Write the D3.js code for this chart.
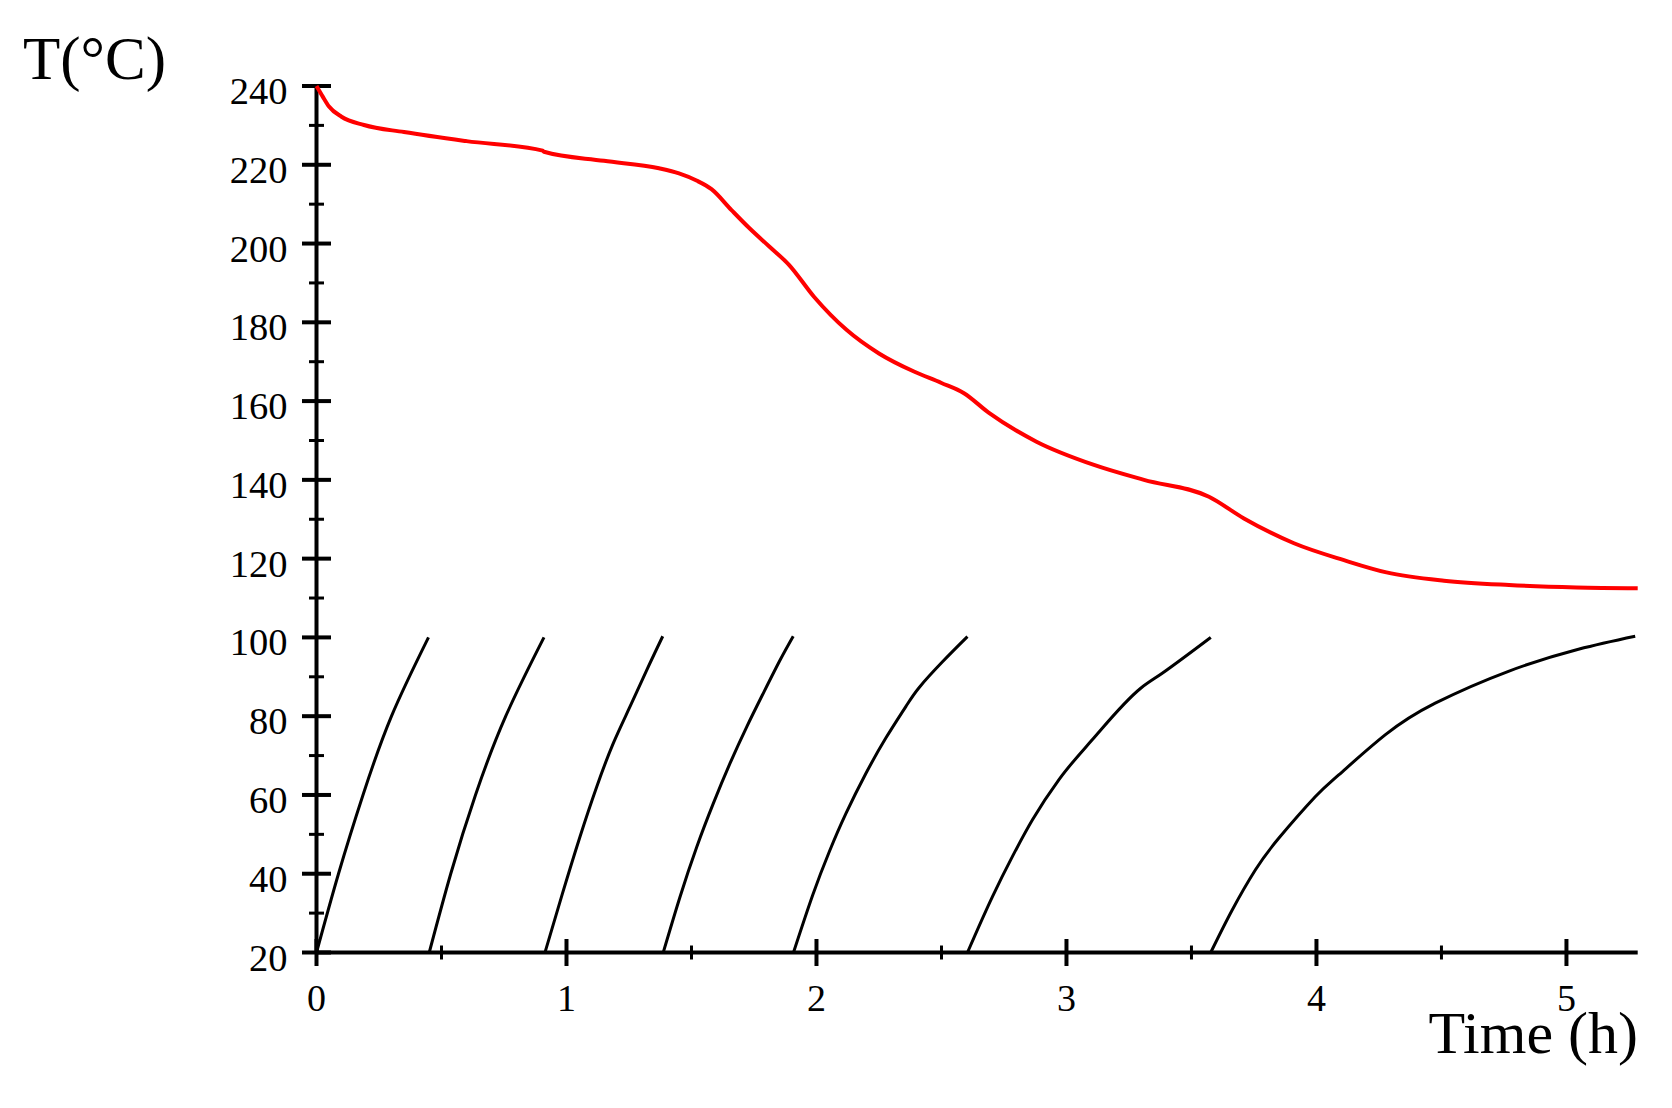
<!DOCTYPE html>
<html>
<head>
<meta charset="utf-8">
<script src="https://cdn.jsdelivr.net/npm/d3@7"></script>
<style>
  html, body { margin: 0; padding: 0; background: #fff; }
  svg { display: block; }
</style>
</head>
<body>
<svg id="chart" width="1672" height="1108"></svg>
<script>
// ---------- data ----------
const yTickValues = [20, 40, 60, 80, 100, 120, 140, 160, 180, 200, 220, 240];
const yMinorTicks = [30, 50, 70, 90, 110, 130, 150, 170, 190, 210, 230];
const xTickValues = [0, 1, 2, 3, 4, 5];
const xMinorTicks = [0.5, 1.5, 2.5, 3.5, 4.5];

// red curve (wall / oil temperature)
const redTime = [0, 0.025, 0.05, 0.1, 0.19, 0.35, 0.6, 0.905, 0.91, 1.15, 1.37, 1.45, 1.52, 1.58, 1.66, 1.73, 1.81, 1.89, 1.99, 2.12, 2.25, 2.39, 2.5, 2.59, 2.69, 2.88, 3.11, 3.31, 3.57, 3.71, 3.91, 4.11, 4.28, 4.51, 4.77, 5.04, 5.285];
const redTemp = [240, 237.3, 234.8, 232.2, 230.1, 228.3, 226.0, 223.6, 223.3, 221.0, 219.1, 217.8, 216.0, 213.8, 208.5, 204.0, 199.3, 194.6, 186.5, 178.1, 172.1, 167.5, 164.6, 162.0, 157.0, 149.7, 143.8, 140.0, 135.7, 130.2, 123.9, 119.6, 116.5, 114.4, 113.3, 112.7, 112.5];

// black curves (batch heating)
const batch1Time = [0, 0.088, 0.186, 0.300, 0.448];
const batch1Temp = [20, 40, 60, 80, 100];
const batch2Time = [0.451, 0.537, 0.636, 0.757, 0.910];
const batch2Temp = [20, 40, 60, 80, 100];
const batch3Time = [0.914, 0.984, 1.054, 1.121, 1.187, 1.254, 1.321, 1.385];
const batch3Temp = [20, 35.0, 49.4, 62.1, 73.1, 82.4, 91.7, 100.3];
const batch4Time = [1.387, 1.454, 1.521, 1.587, 1.654, 1.721, 1.787, 1.854, 1.907];
const batch4Temp = [20, 34.1, 46.8, 57.8, 68.0, 77.3, 85.8, 94.2, 100.3];
const batch5Time = [1.908, 1.985, 2.052, 2.118, 2.198, 2.278, 2.358, 2.411, 2.504, 2.604];
const batch5Temp = [20, 34.6, 45.7, 55.3, 65.5, 74.5, 82.5, 87.3, 93.8, 100.2];
const batch6Time = [2.604, 2.704, 2.784, 2.864, 2.970, 3.103, 3.297, 3.383, 3.577];
const batch6Temp = [20, 34.2, 44.4, 53.7, 63.9, 74.0, 87.1, 90.9, 100.0];
const batch7Time = [3.577, 3.663, 3.756, 3.849, 3.996, 4.089, 4.276, 4.475, 4.768, 5.048, 5.275];
const batch7Temp = [20, 30.8, 41.0, 49.0, 59.6, 65.1, 75.3, 83.3, 91.4, 97.0, 100.3];

const batchTimes = [batch1Time, batch2Time, batch3Time, batch4Time, batch5Time, batch6Time, batch7Time];
const batchTemps = [batch1Temp, batch2Temp, batch3Temp, batch4Temp, batch5Temp, batch6Temp, batch7Temp];

// ---------- drawing ----------
const svg = d3.select("#chart");
const x = d3.scaleLinear().domain([0, 5.285]).range([316.5, 1637.7]);
const y = d3.scaleLinear().domain([20, 240]).range([952.5, 86]);

const font = "'Liberation Serif', 'Times New Roman', serif";

const redLine = d3.line()
  .x(d => x(d[0]))
  .y(d => y(d[1]))
  .curve(d3.curveMonotoneX);
const smoothLine = d3.line()
  .x(d => x(d[0]))
  .y(d => y(d[1]))
  .curve(d3.curveNatural);
const kinkLine = d3.line()
  .x(d => x(d[0]))
  .y(d => y(d[1]))
  .curve(d3.curveMonotoneX);

// axis lines
svg.append("line")
  .attr("x1", x(0)).attr("x2", x(0))
  .attr("y1", y(240)).attr("y2", y(20))
  .attr("stroke", "#000").attr("stroke-width", 4);
svg.append("line")
  .attr("x1", x(0)).attr("x2", x(5.285))
  .attr("y1", y(20)).attr("y2", y(20))
  .attr("stroke", "#000").attr("stroke-width", 4);

// y ticks
svg.append("g").selectAll("line").data(yTickValues).join("line")
  .attr("x1", x(0) - 14.5).attr("x2", x(0) + 14.5)
  .attr("y1", d => y(d)).attr("y2", d => y(d))
  .attr("stroke", "#000").attr("stroke-width", 4);
svg.append("g").selectAll("line").data(yMinorTicks).join("line")
  .attr("x1", x(0) - 7.5).attr("x2", x(0) + 7.5)
  .attr("y1", d => y(d)).attr("y2", d => y(d))
  .attr("stroke", "#000").attr("stroke-width", 3);

// x ticks
svg.append("g").selectAll("line").data(xTickValues).join("line")
  .attr("x1", d => x(d)).attr("x2", d => x(d))
  .attr("y1", y(20) - 13.5).attr("y2", y(20) + 13.5)
  .attr("stroke", "#000").attr("stroke-width", 4);
svg.append("g").selectAll("line").data(xMinorTicks).join("line")
  .attr("x1", d => x(d)).attr("x2", d => x(d))
  .attr("y1", y(20) - 7).attr("y2", y(20) + 7)
  .attr("stroke", "#000").attr("stroke-width", 3);

// y tick labels
svg.append("g").selectAll("text").data(yTickValues).join("text")
  .attr("x", 287.5).attr("y", d => y(d) + 18)
  .attr("text-anchor", "end")
  .attr("font-family", font).attr("font-size", 38.5)
  .attr("fill", "#000")
  .text(d => d);

// x tick labels
svg.append("g").selectAll("text").data(xTickValues).join("text")
  .attr("x", d => x(d)).attr("y", 1011)
  .attr("text-anchor", "middle")
  .attr("font-family", font).attr("font-size", 38)
  .attr("fill", "#000")
  .text(d => d);

// axis titles
svg.append("text")
  .attr("x", 23).attr("y", 79)
  .attr("font-family", font).attr("font-size", 61)
  .attr("fill", "#000")
  .text("T(°C)");
svg.append("text")
  .attr("x", 1638).attr("y", 1053)
  .attr("text-anchor", "end")
  .attr("font-family", font).attr("font-size", 60)
  .attr("fill", "#000")
  .text("Time (h)");

// black batch curves
batchTimes.forEach((times, i) => {
  const pts = times.map((t, j) => [t, batchTemps[i][j]]);
  const gen = (i === 5) ? kinkLine : smoothLine;
  svg.append("path")
    .attr("d", gen(pts))
    .attr("fill", "none")
    .attr("stroke", "#000")
    .attr("stroke-width", 3);
});

// red curve
svg.append("path")
  .attr("d", redLine(redTime.map((t, j) => [t, redTemp[j]])))
  .attr("fill", "none")
  .attr("stroke", "#ff0000")
  .attr("stroke-width", 4);
</script>
</body>
</html>
